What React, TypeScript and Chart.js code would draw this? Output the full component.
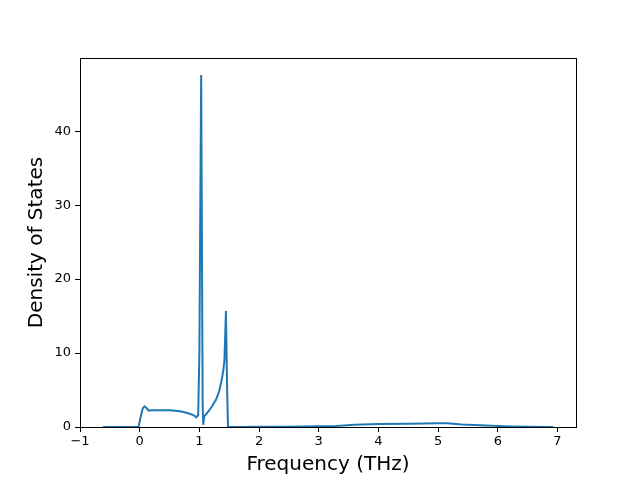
import React, { useEffect, useRef } from "react";
import { Chart, registerables } from "chart.js";

Chart.register(...registerables);

const freq = [-0.62, -0.02, 0.02, 0.05, 0.08, 0.11, 0.15, 0.2, 0.3, 0.4, 0.5, 0.6, 0.7, 0.8, 0.9, 0.95, 0.98, 1.0, 1.03, 1.055, 1.065, 1.08, 1.12, 1.17, 1.22, 1.28, 1.33, 1.37, 1.4, 1.42, 1.445, 1.465, 1.48, 1.6, 2.0, 2.5, 3.0, 3.3, 3.6, 4.0, 4.5, 5.0, 5.15, 5.4, 5.8, 6.2, 6.5, 6.93];
const dos = [0, 0, 1.5, 2.5, 2.8, 2.6, 2.2, 2.25, 2.25, 2.25, 2.25, 2.2, 2.1, 1.9, 1.6, 1.3, 1.6, 10, 47.6, 3, 0.3, 1.4, 1.8, 2.3, 2.9, 3.7, 4.8, 6.2, 7.6, 9.0, 15.7, 5, 0, 0, 0.02, 0.05, 0.1, 0.15, 0.3, 0.4, 0.45, 0.5, 0.5, 0.35, 0.2, 0.08, 0.02, 0];
const xTicks = [-1, 0, 1, 2, 3, 4, 5, 6, 7];
const yTicks = [0, 10, 20, 30, 40];

const FONT = "'DejaVu Sans', sans-serif";

const frame = {
  id: "frame",
  afterDraw(chart: any) {
    const { ctx, chartArea } = chart;
    ctx.save();
    ctx.strokeStyle = "#000";
    ctx.lineWidth = 1;
    ctx.strokeRect(
      Math.round(chartArea.left) + 0.5,
      Math.round(chartArea.top) + 0.5,
      Math.round(chartArea.right - chartArea.left),
      Math.round(chartArea.bottom - chartArea.top)
    );
    ctx.restore();
  },
};

const fmt = (v: any) => String(v).replace("-", "\u2212");

export default function App() {
  const ref = useRef<HTMLCanvasElement>(null);
  useEffect(() => {
    document.body.style.margin = "0";
    const chart = new Chart(ref.current!, {
      type: "line",
      data: {
        datasets: [
          {
            data: freq.map((f, i) => ({ x: f, y: dos[i] })),
            borderColor: "#1f77b4",
            borderWidth: 2,
            pointRadius: 0,
            fill: false,
            tension: 0,
          },
        ],
      },
      options: {
        responsive: false,
        animation: false,
        plugins: { legend: { display: false }, tooltip: { enabled: false } },
        layout: { padding: { left: 25, right: 64, top: 58, bottom: 0 } },
        scales: {
          x: {
            type: "linear",
            min: -1,
            max: 7.31,
            afterBuildTicks: (s: any) => {
              s.ticks = xTicks.map((v) => ({ value: v }));
            },
            afterFit: (s: any) => {
              s.height = 53;
            },
            grid: { display: true, drawOnChartArea: false, drawTicks: true, tickLength: 5, color: "#000", tickColor: "#000" },
            border: { display: false },
            ticks: { color: "#000", font: { family: FONT, size: 13 }, padding: 2, maxRotation: 0, callback: fmt },
            title: { display: true, text: "Frequency (THz)", color: "#000", font: { family: FONT, size: 20 }, padding: { top: 3, bottom: 3 } },
          },
          y: {
            type: "linear",
            min: 0,
            max: 49.9,
            afterBuildTicks: (s: any) => {
              s.ticks = yTicks.map((v) => ({ value: v }));
            },
            afterFit: (s: any) => {
              s.width = 55;
            },
            grid: { display: true, drawOnChartArea: false, drawTicks: true, tickLength: 5, color: "#000", tickColor: "#000" },
            border: { display: false },
            ticks: { color: "#000", font: { family: FONT, size: 13 }, padding: 4, callback: fmt },
            title: { display: true, text: "Density of States", color: "#000", font: { family: FONT, size: 20 }, padding: { top: 0, bottom: 0 } },
          },
        },
      },
      plugins: [frame],
    });
    return () => chart.destroy();
  }, []);
  return (
    <div style={{ width: 640, height: 480, background: "#fff" }}>
      <canvas ref={ref} width={640} height={480} />
    </div>
  );
}
